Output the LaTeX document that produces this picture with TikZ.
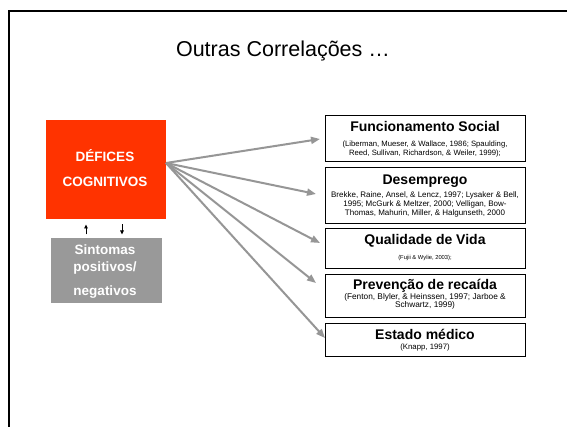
\documentclass[tikz,border=0pt]{standalone}
\usepackage{fontspec}
\setmainfont{Liberation Sans}
\usetikzlibrary{arrows.meta}
\definecolor{redbox}{RGB}{255,51,0}
\definecolor{graybox}{RGB}{153,153,153}
\definecolor{arrowgray}{RGB}{150,150,150}
\begin{document}
\begin{tikzpicture}[x=1pt,y=-1pt,
  rbox/.style={draw=black, line width=0.9pt, fill=white, minimum width=200pt, inner sep=0pt},
  rtitle/.style={font=\bfseries\fontsize{14}{16}\selectfont, text height=10pt, text depth=0pt, inner sep=0pt},
  rrefs/.style={align=center, inner sep=0pt},
  boxtext/.style={text=white, align=center, inner sep=0pt},
  fan/.style={draw=arrowgray, line width=2pt, -{Triangle[length=9pt,width=7pt]}},
  small/.style={draw=black, line width=0.9pt, -{Triangle[length=4pt,width=3.5pt]}}
]
\useasboundingbox (0,0) rectangle (567,427);
\fill[white] (0,0) rectangle (567,427);
\draw[line width=2.2pt] (8.8,427) -- (8.8,11) -- (567,11);

% title
\node[font=\fontsize{21.5}{24}\selectfont, text height=15.4pt, text depth=0pt, inner sep=0pt] (title) at (283,49) {Outras Correlações …};

% left boxes
\node[fill=redbox, minimum width=120pt, minimum height=99pt, inner sep=0pt] (def) at (106,169.5) {};
\node[boxtext, font=\bfseries\fontsize{13.5}{25}\selectfont] (deft) at (105,168.5) {DÉFICES\\COGNITIVOS};
\node[fill=graybox, minimum width=111pt, minimum height=65pt, inner sep=0pt] (sint) at (106.5,270.5) {};
\node[boxtext, font=\bfseries\fontsize{13.5}{17}\selectfont] (sintt) at (105,272) {Sintomas\\positivos/\\[7pt]negativos};

% small arrows
\coordinate (ua) at (86,234.5);
\coordinate (ub) at (86,224.5);
\coordinate (da) at (122,224.5);
\coordinate (db) at (122,234.5);
\draw[small] (ua) -- (ub);
\draw[small] (da) -- (db);

% right boxes
\node[rbox, minimum height=46.5pt] (b1) at (425,138.25) {};
\node[rbox, minimum height=56.5pt] (b2) at (425,195.25) {};
\node[rbox, minimum height=39.5pt] (b3) at (425,248.25) {};
\node[rbox, minimum height=42.5pt] (b4) at (425,295.75) {};
\node[rbox, minimum height=32.5pt] (b5) at (425,339.75) {};

\node[rtitle] (b1t) at (425,127) {Funcionamento Social};
\node[rrefs, font=\fontsize{7.7}{8.8}\selectfont] (b1r) at (425,149) {(Liberman, Mueser, \& Wallace, 1986; Spaulding,\\Reed, Sullivan, Richardson, \& Weiler, 1999);};

\node[rtitle] (b2t) at (425,180) {Desemprego};
\node[rrefs, font=\fontsize{8}{9}\selectfont] (b2r) at (425,204) {Brekke, Raine, Ansel, \& Lencz, 1997; Lysaker \& Bell,\\1995; McGurk \& Meltzer, 2000; Velligan, Bow-\\Thomas, Mahurin, Miller, \& Halgunseth, 2000};

\node[rtitle] (b3t) at (425,240) {Qualidade de Vida};
\node[rrefs, font=\fontsize{5.8}{7}\selectfont] (b3r) at (425,258) {(Fujii \& Wylie, 2003);};

\node[rtitle] (b4t) at (425,285) {Prevenção de recaída};
\node[rrefs, font=\fontsize{8.3}{8.6}\selectfont] (b4r) at (425,301.5) {(Fenton, Blyler, \& Heinssen, 1997; Jarboe \&\\Schwartz, 1999)};

\node[rtitle] (b5t) at (425,334.5) {Estado médico};
\node[rrefs, font=\fontsize{7.8}{8}\selectfont] (b5r) at (425,347.5) {(Knapp, 1997)};

% fan of arrows
\coordinate (src) at (166,163);
\coordinate (e1) at (320,139);
\coordinate (e2) at (316,194);
\coordinate (e3) at (320,243);
\coordinate (e4) at (316,283);
\coordinate (e5) at (325,338);
\foreach \e in {e1,e2,e3,e4,e5} \draw[fan] (src) -- (\e);
\end{tikzpicture}
\end{document}
